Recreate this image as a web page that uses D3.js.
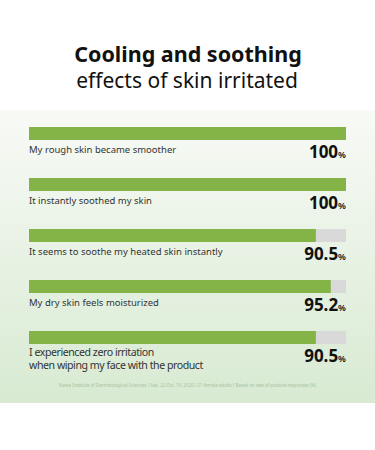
<!DOCTYPE html>
<html><head><meta charset="utf-8">
<script src="https://cdn.jsdelivr.net/npm/d3@7"></script>
<style>body{margin:0;background:#fff}svg{display:block}</style>
</head><body>
<svg id="c" width="375" height="450"></svg>
<script>
const categories = [
  ["My rough skin became smoother"],
  ["It instantly soothed my skin"],
  ["It seems to soothe my heated skin instantly"],
  ["My dry skin feels moisturized"],
  ["I experienced zero irritation", "when wiping my face with the product"]
];
const values = [100, 100, 90.5, 95.2, 90.5];
const valueLabels = ["100", "100", "90.5", "95.2", "90.5"];
const titleLines = ["Cooling and soothing", "effects of skin irritated"];
const footnote = "Korea Institute of Dermatological Sciences / Sep. 22-Oct. 19, 2020 / 21 female adults / Based on rate of positive responses (%)";

const svg = d3.select("#c");
const font = "'Noto Sans', 'Open Sans', sans-serif";

const defs = svg.append("defs");
const grad = defs.append("linearGradient").attr("id","bg").attr("x1",0).attr("y1",0).attr("x2",0).attr("y2",1);
grad.append("stop").attr("offset","0%").attr("stop-color","#f8faf6");
grad.append("stop").attr("offset","100%").attr("stop-color","#d8ead2");
svg.append("rect").attr("x",0).attr("y",110).attr("width",375).attr("height",293).attr("fill","url(#bg)");

svg.append("text").attr("x",188).attr("y",61.5).attr("text-anchor","middle")
  .attr("font-family",font).attr("font-weight",700).attr("font-size",21.5).attr("fill","#111").text(titleLines[0]);
svg.append("text").attr("x",187).attr("y",88).attr("text-anchor","middle")
  .attr("font-family",font).attr("font-weight",400).attr("font-size",21).attr("fill","#111").text(titleLines[1]);

const x = d3.scaleLinear().domain([0,100]).range([29,346]);
const y = d3.scaleBand().domain(d3.range(values.length)).range([127,382]).paddingInner(0).paddingOuter(0);
const bh = 13;

const g = svg.append("g");
const rows = g.selectAll("g.row").data(values).join("g").attr("class","row")
  .attr("transform",(d,i)=>`translate(0,${y(i)})`);

rows.append("rect").attr("x",x(0)).attr("y",0).attr("width",x(100)-x(0)).attr("height",bh).attr("fill","#d9d9d9");
rows.append("rect").attr("x",x(0)).attr("y",0).attr("width",d=>x(d)-x(0)).attr("height",bh).attr("fill","#84b447");

rows.each(function(d,i){
  const r = d3.select(this);
  const lines = categories[i];
  const big = lines.length > 1;
  const t = r.append("text").attr("font-family",font).attr("font-size",big?10.6:9.5)
    .attr("letter-spacing", big ? -0.45 : 0).attr("fill","#333");
  lines.forEach((l,k)=>{
    t.append("tspan").attr("x",x(0)).attr("y",big ? 25 + k*13 : 26).text(l);
  });
  const v = r.append("text").attr("x",x(100)).attr("y",31).attr("text-anchor","end")
    .attr("font-family",font).attr("fill","#111");
  v.append("tspan").attr("font-weight",700).attr("font-size",17).text(valueLabels[i]);
  v.append("tspan").attr("font-weight",600).attr("font-size",9).text("%");
});

svg.append("text").attr("x",187.5).attr("y",387).attr("text-anchor","middle")
  .attr("font-family",font).attr("font-size",4.4).attr("fill","#a9c2a0").text(footnote);
</script>
</body></html>
